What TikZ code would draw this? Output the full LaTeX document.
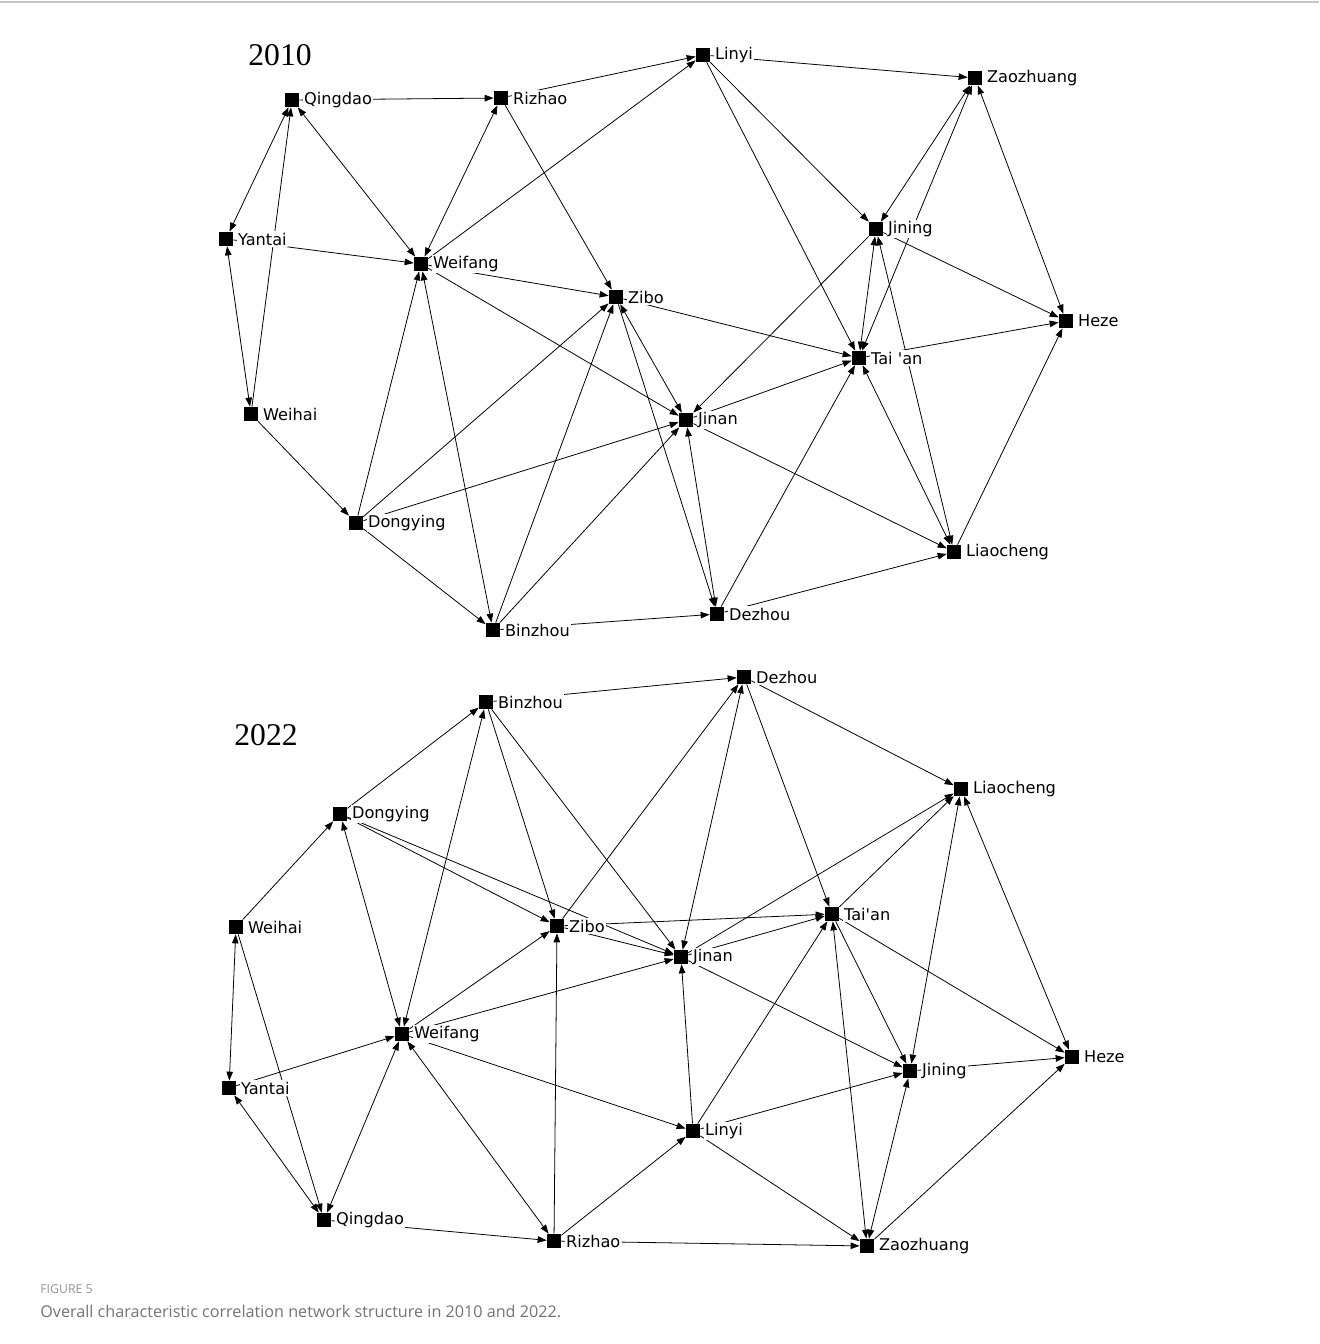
\documentclass[tikz,border=0pt]{standalone}
\usepackage{fontspec}
\setmainfont{Liberation Serif}
\newfontfamily\citylabel{DejaVu Sans}
\newfontfamily\capfont{Open Sans}
\usetikzlibrary{arrows.meta,backgrounds}
\tikzset{
  >={Triangle[length=1.8mm,width=1.3mm]},
  city/.style={rectangle,fill=black,minimum size=2.8mm,inner sep=0pt},
  cityname/.style={font=\citylabel\fontsize{9.2}{10}\selectfont,anchor=west,inner sep=0.8pt,fill=white,xshift=0.6mm},
  link/.style={->,line width=0.45pt},
  duallink/.style={<->,line width=0.45pt},
  year/.style={font=\fontsize{18}{20}\selectfont}
}
\begin{document}
\begin{tikzpicture}[x=0.02cm,y=-0.02cm]
    \useasboundingbox (0,0) rectangle (1319,1344);
    \draw[gray!45,line width=0.6pt] (0,2) -- (1319,2);

    % 2010
    \node[year] (y2010) at (280,55) {2010};
    \foreach \x/\y/\id/\name in {292/100/Qingdao/Qingdao,501/98/Rizhao/Rizhao,703/55/Linyi/Linyi,975/78/Zaozhuang/Zaozhuang,
        226/239/Yantai/Yantai,421/264/Weifang/Weifang,616/297/Zibo/Zibo,876/229/Jining/Jining,1066/321/Heze/Heze,
        859/358/Taian/{Tai 'an},251/414/Weihai/Weihai,686/420/Jinan/Jinan,356/523/Dongying/Dongying,
        954/552/Liaocheng/Liaocheng,493/630/Binzhou/Binzhou,717/614/Dezhou/Dezhou}
    {
        \node[city] (a\id) at (\x,\y) {};
        \node[cityname] (a\id-t) at (a\id.east) {\name};
    }
    \begin{scope}[on background layer]
    \foreach \s/\t in {Qingdao/Rizhao,Rizhao/Linyi,Linyi/Zaozhuang,Weihai/Qingdao,Yantai/Weifang,Weifang/Linyi,
        Rizhao/Zibo,Weifang/Zibo,Weifang/Jinan,Dongying/Weifang,Zibo/Taian,Zibo/Dezhou,Dongying/Jinan,
        Binzhou/Jinan,Binzhou/Dezhou,Dezhou/Taian,Dezhou/Liaocheng,Jinan/Taian,Jinan/Liaocheng,Jining/Jinan,
        Linyi/Jining,Linyi/Taian,Jining/Heze,Taian/Heze,Liaocheng/Heze,Dongying/Zibo,Binzhou/Zibo,
        Weihai/Dongying,Dongying/Binzhou}
        \draw[link] (a\s) -- (a\t);
    \foreach \s/\t in {Qingdao/Yantai,Yantai/Weihai,Qingdao/Weifang,Weifang/Rizhao,Weifang/Binzhou,Zibo/Jinan,
        Jinan/Dezhou,Zaozhuang/Jining,Taian/Zaozhuang,Zaozhuang/Heze,Jining/Taian,Jining/Liaocheng,Taian/Liaocheng}
        \draw[duallink] (a\s) -- (a\t);
    \end{scope}

    % 2022
    \node[year] (y2022) at (266,735) {2022};
    \foreach \x/\y/\id/\name in {486/702/Binzhou/Binzhou,744/677/Dezhou/Dezhou,961/789/Liaocheng/Liaocheng,
        340/814/Dongying/Dongying,236/927/Weihai/Weihai,557/926/Zibo/Zibo,832/914/Taian/Tai'an,681/957/Jinan/Jinan,
        402/1034/Weifang/Weifang,1072/1057/Heze/Heze,910/1071/Jining/Jining,229/1088/Yantai/Yantai,
        693/1131/Linyi/Linyi,324/1220/Qingdao/Qingdao,554/1241/Rizhao/Rizhao,867/1246/Zaozhuang/Zaozhuang}
    {
        \node[city] (b\id) at (\x,\y) {};
        \node[cityname] (b\id-t) at (b\id.east) {\name};
    }
    \begin{scope}[on background layer]
    \foreach \s/\t in {Binzhou/Dezhou,Dongying/Binzhou,Weihai/Dongying,Dongying/Zibo,Dongying/Jinan,Binzhou/Zibo,
        Binzhou/Jinan,Zibo/Dezhou,Dezhou/Taian,Dezhou/Liaocheng,Zibo/Taian,Zibo/Jinan,Jinan/Taian,Jinan/Liaocheng,
        Taian/Liaocheng,Taian/Heze,Taian/Jining,Jinan/Jining,Linyi/Jining,Jining/Heze,Zaozhuang/Heze,
        Linyi/Zaozhuang,Rizhao/Zaozhuang,Rizhao/Linyi,Linyi/Jinan,Linyi/Taian,Weifang/Linyi,Rizhao/Zibo,
        Weifang/Zibo,Weifang/Jinan,Yantai/Weifang,Qingdao/Rizhao,Weihai/Qingdao}
        \draw[link] (b\s) -- (b\t);
    \foreach \s/\t in {Weifang/Dongying,Weifang/Binzhou,Jinan/Dezhou,Jining/Liaocheng,Heze/Liaocheng,
        Taian/Zaozhuang,Zaozhuang/Jining,Weifang/Rizhao,Qingdao/Weifang,Weihai/Yantai,Yantai/Qingdao}
        \draw[duallink] (b\s) -- (b\t);
    \end{scope}

    % caption
    \node[anchor=west,inner sep=0pt,font=\capfont\fontsize{7}{8}\selectfont,text=gray!85] (figno) at (40,1289) {FIGURE 5};
    \node[anchor=west,inner sep=0pt,font=\capfont\fontsize{9.2}{11}\selectfont,text=gray!90!black] (figcap) at (40,1311)
        {Overall characteristic correlation network structure in 2010 and 2022.};
\end{tikzpicture}
\end{document}
